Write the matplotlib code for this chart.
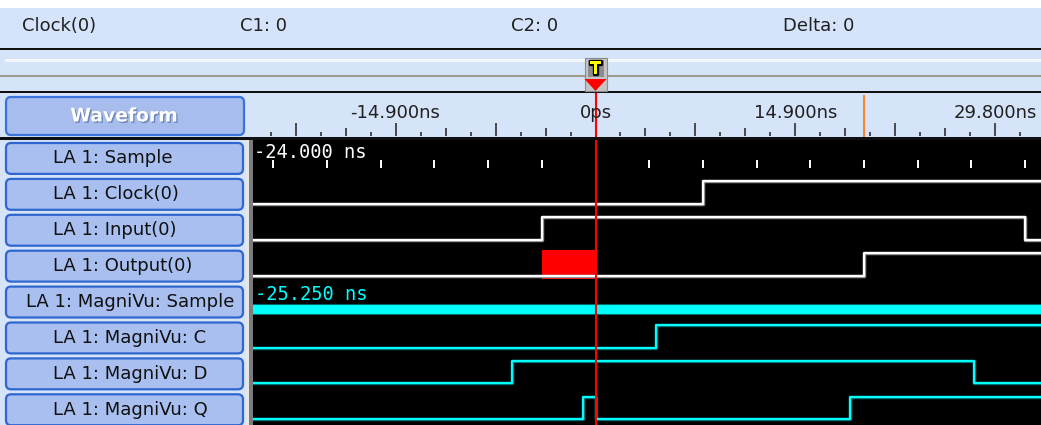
import numpy as np
import matplotlib
matplotlib.use("Agg")
import matplotlib.pyplot as plt
from matplotlib.patches import Rectangle, FancyBboxPatch, Polygon
import matplotlib.patheffects as pe

# ---- data -------------------------------------------------------------
header_items = ["Clock(0)", "C1: 0", "C2: 0", "Delta: 0"]
row_labels = [
    "LA 1: Sample",
    "LA 1: Clock(0)",
    "LA 1: Input(0)",
    "LA 1: Output(0)",
    "LA 1: MagniVu: Sample",
    "LA 1: MagniVu: C",
    "LA 1: MagniVu: D",
    "LA 1: MagniVu: Q",
]
ruler_labels = {-14.9: "-14.900ns", 0.0: "0ps", 14.9: "14.900ns", 29.8: "29.800ns"}
sample_times = [-24, -20, -16, -12, -8, -4, 0, 4, 8, 12, 16, 20, 24, 28, 32]
sample_text = "-24.000 ns"
magnivu_text = "-25.250 ns"

# transition times (ns), every signal starts low
clock_edges = [8.0]
input_edges = [-4.0, 32.0]
output_edges = [20.0]
output_unknown = (-4.0, 0.0)
mv_c_edges = [4.5]
mv_d_edges = [-6.2, 28.2]
mv_q_edges = [-0.9, 0.0, 19.0]
cursor_orange = 20.0
trigger_time = 0.0

# ---- geometry (pixels) -------------------------------------------------
W, H = 1041, 425
PX_PER_NS = 13.42
X0 = 595.5          # pixel of 0 ns
WAVE_L, WAVE_T = 253, 140
ROW_H = 35.9
FS = 13


def bare(ax):
    ax.set_xticks([])
    ax.set_yticks([])
    for s in ax.spines.values():
        s.set_visible(False)


fig = plt.figure(figsize=(W / 100, H / 100), dpi=100)
fig.patch.set_facecolor("#d6e4f9")

bg = fig.add_axes([0, 0, 1, 1])
bg.set_xlim(0, W)
bg.set_ylim(H, 0)
bg.axis("off")

# header strip
bg.add_patch(Rectangle((0, 0), W, 8, color="white", lw=0))
bg.add_patch(Rectangle((0, 8), W, 40, color="#d5e4fa", lw=0))
bg.add_patch(Rectangle((0, 47.5), W, 2.5, color="#101010", lw=0))
for txt, x in zip(header_items, [22, 240, 511, 783]):
    bg.text(x, 26, txt, fontsize=FS, color="#202020", va="center", ha="left")

# trigger band
bg.add_patch(Rectangle((0, 50), W, 41, color="#d6e4f9", lw=0))
bg.add_patch(Rectangle((5, 59), W, 3, color="#f4f7fc", lw=0))
bg.add_patch(Rectangle((0, 74.5), W, 2.5, color="#9c9c8e", lw=0))
bg.add_patch(Rectangle((0, 90.5), W, 2.5, color="#101010", lw=0))

# trigger marker
tx = X0 + PX_PER_NS * trigger_time
bg.add_patch(Rectangle((tx - 11, 58), 22, 33, facecolor="#c4c4c4",
                       edgecolor="#8c8c8c", lw=0.8))
bg.add_patch(Rectangle((tx - 8, 60), 16, 17, facecolor="#8e8e8e",
                       edgecolor="none"))
bg.add_patch(Polygon([(tx - 11, 79), (tx + 11, 79), (tx, 91)], closed=True,
                     facecolor="#ff0000", edgecolor="none"))
bg.text(tx, 69, "T", fontsize=12.5, fontweight="bold", color="#ffff00",
        ha="center", va="center",
        path_effects=[pe.withStroke(linewidth=2.4, foreground="black")])

# Waveform button
bg.add_patch(FancyBboxPatch((6, 97), 238, 38,
                            boxstyle="round,pad=0,rounding_size=5",
                            facecolor="#a6bdee", edgecolor="#3a74da", lw=1.6))
bg.text(124, 116, "Waveform", fontsize=13.5, fontweight="bold", color="white",
        ha="center", va="center",
        path_effects=[pe.withSimplePatchShadow(offset=(1, -1),
                                               shadow_rgbFace="#6f86b8", alpha=1)])

# separator line under ruler
bg.add_patch(Rectangle((0, 137), W, 3, color="#101010", lw=0))

# row buttons
for i, lab in enumerate(row_labels):
    top = WAVE_T + ROW_H * i + 3
    btn = FancyBboxPatch((6, top), 237, ROW_H - 5,
                         boxstyle="round,pad=0,rounding_size=5",
                         facecolor="#a8bfef", edgecolor="#2f66d0", lw=1.6)
    bg.add_patch(btn)
    cy = top + (ROW_H - 5) / 2
    if len(lab) > 18:
        t = bg.text(234, cy, lab, fontsize=FS, color="#101010",
                    ha="right", va="center")
        t.set_clip_path(btn)
    else:
        bg.text(53, cy, lab, fontsize=FS, color="#101010",
                ha="left", va="center")

# left border of waveform window
bg.add_patch(Rectangle((246, WAVE_T), 3, H - WAVE_T, color="#e6e6e6", lw=0))
bg.add_patch(Rectangle((249, WAVE_T), 4, H - WAVE_T, color="#7c7c7c", lw=0))

# ---- ruler axes ----------------------------------------------------------
x_left = (WAVE_L - X0) / PX_PER_NS
x_right = (W - X0) / PX_PER_NS
rul = fig.add_axes([(WAVE_L - 6) / W, (H - 137) / H, (W - WAVE_L + 6) / W, 44 / H])
rul.set_xlim((WAVE_L - 6 - X0) / PX_PER_NS, x_right)
rul.set_ylim(44, 0)
rul.set_facecolor("#d6e4f9")
bare(rul)
step = 14.9 / 8
tick_idx = np.arange(-14, 18)
for k in tick_idx:
    t = k * step
    if k % 4 == 0:
        y0 = 30
    elif k % 2 == 0:
        y0 = 35
    else:
        y0 = 39
    rul.plot([t, t], [y0, 43], color="#202020", lw=1.1, solid_capstyle="butt")
for t, lab in ruler_labels.items():
    rul.text(t, 20, lab, fontsize=FS, color="#202020", ha="center", va="center")
rul.plot([cursor_orange, cursor_orange], [3, 44], color="#ff7a10", lw=1.3)
rul.plot([trigger_time, trigger_time], [0, 44], color="#ff0000", lw=1.5)

# ---- waveform axes -------------------------------------------------------
wav = fig.add_axes([WAVE_L / W, 0, (W - WAVE_L) / W, (H - WAVE_T) / H])
wav.set_facecolor("black")
wav.set_xlim(x_left, x_right)
wav.set_ylim((H - WAVE_T) / ROW_H, 0)
bare(wav)

HI, LO = 0.155, 0.78


def draw_step(row, edges, color, edge_color):
    xs = [x_left - 1] + list(edges) + [x_right + 1]
    lv = [LO if k % 2 == 0 else HI for k in range(len(edges) + 1)]
    ys = [row + v for v in lv] + [row + lv[-1]]
    wav.step(xs, ys, where="post", color=edge_color, lw=2.5)
    wav.step(xs, ys, where="post", color=color, lw=1.6)


# sample row
wav.text(x_left + 0.1, 0.07, sample_text, family="DejaVu Sans Mono",
         fontsize=13.5, color="white", ha="left", va="top")
wav.vlines(sample_times, 0.56, 0.78, color="white", lw=1.4)

# digital rows
wav.add_patch(Rectangle((output_unknown[0], 3.065),
                        output_unknown[1] - output_unknown[0], 0.8,
                        color="#ff0000", lw=0))
draw_step(1, clock_edges, "white", "#8a8a8a")
draw_step(2, input_edges, "white", "#8a8a8a")
draw_step(3, output_edges, "white", "#8a8a8a")

# MagniVu rows
wav.text(x_left + 0.15, 4.29, magnivu_text, family="DejaVu Sans Mono",
         fontsize=13.5, color="#00ffff", ha="left", va="center")
wav.fill_between([x_left - 1, x_right + 1], 4.57, 4.85, color="#00ffff",
                 edgecolor="#006a6a", lw=0.8)
draw_step(5, mv_c_edges, "#00ffff", "#00605f")
draw_step(6, mv_d_edges, "#00ffff", "#00605f")
draw_step(7, mv_q_edges, "#00ffff", "#00605f")

wav.axvline(trigger_time, color="#ff0000", lw=1.5)

fig.savefig("out.png", dpi=100, facecolor=fig.get_facecolor())
